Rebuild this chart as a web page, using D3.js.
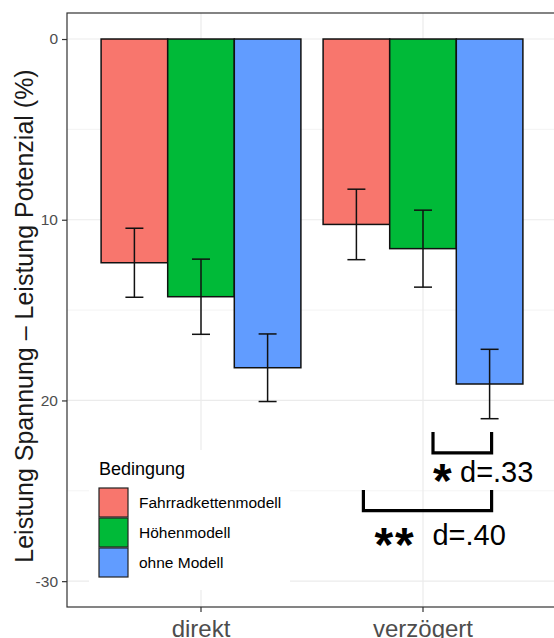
<!DOCTYPE html>
<html>
<head>
<meta charset="utf-8">
<script src="https://cdn.jsdelivr.net/npm/d3@7"></script>
<style>
  body { margin: 0; background: #fff; }
  svg { font-family: "Liberation Sans", Arial, sans-serif; display: block; }
</style>
</head>
<body>
<svg width="554" height="638"></svg>
<script>
const conditions = ['direkt', 'verzögert'];
const groups = ['Fahrradkettenmodell', 'Höhenmodell', 'ohne Modell'];
const colors = ['#F8766D', '#00BA38', '#619CFF'];

// mean difference per condition, one value per group
const meanDirekt = [12.38, 14.26, 18.19];
const meanVerzoegert = [10.26, 11.6, 19.09];
// half-length of error bars
const errDirekt = [1.91, 2.08, 1.87];
const errVerzoegert = [1.95, 2.13, 1.92];

const yTicks = [0, 10, 20, 30];
const yTickLabels = ['0', '10', '20', '-30'];
const yMinorTicks = [5, 15, 25];

const yAxisLabel = 'Leistung Spannung – Leistung Potenzial (%)';
const legendTitle = 'Bedingung';

// significance brackets: from group to group in 'verzögert', y in data units
const brackets = [
  { from: 'Höhenmodell', to: 'ohne Modell', top: 21.75, bottom: 22.9, stars: '*', label: 'd=.33', textY: 24.5 },
  { from: 'Fahrradkettenmodell', to: 'ohne Modell', top: 24.96, bottom: 26.1, stars: '**', label: 'd=.40', textY: 28.0 }
];

const data = [];
conditions.forEach((c, i) => {
  const means = i === 0 ? meanDirekt : meanVerzoegert;
  const errs = i === 0 ? errDirekt : errVerzoegert;
  groups.forEach((g, j) => data.push({ cond: c, group: g, value: means[j], err: errs[j] }));
});

const svg = d3.select('svg');
const panel = { left: 67, top: 13, right: 556, bottom: 607 };

const xScale = d3.scaleBand()
  .domain(conditions)
  .range([panel.left + 0.8, panel.right + 0.2])
  .paddingInner(0.1)
  .paddingOuter(0.15);

const xInner = d3.scaleBand()
  .domain(groups)
  .range([0, xScale.bandwidth()]);

const yScale = d3.scaleLinear()
  .domain([-1.44, 31.43])
  .range([panel.top, panel.bottom]);

const colorScale = d3.scaleOrdinal().domain(groups).range(colors);

const groupX = (c, g) => xScale(c) + xInner(g) + xInner.bandwidth() / 2;

// grid
const grid = svg.append('g');
grid.selectAll('.minor').data(yMinorTicks).join('line')
  .attr('x1', panel.left).attr('x2', 554)
  .attr('y1', d => yScale(d)).attr('y2', d => yScale(d))
  .attr('stroke', '#ebebeb').attr('stroke-width', 0.6);
grid.selectAll('.major').data(yTicks).join('line')
  .attr('x1', panel.left).attr('x2', 554)
  .attr('y1', d => yScale(d)).attr('y2', d => yScale(d))
  .attr('stroke', '#ebebeb').attr('stroke-width', 1.2);
grid.selectAll('.vmajor').data(conditions).join('line')
  .attr('x1', d => xScale(d) + xScale.bandwidth() / 2)
  .attr('x2', d => xScale(d) + xScale.bandwidth() / 2)
  .attr('y1', panel.top).attr('y2', panel.bottom)
  .attr('stroke', '#ebebeb').attr('stroke-width', 1.2);

// bars
svg.append('g').selectAll('rect').data(data).join('rect')
  .attr('x', d => xScale(d.cond) + xInner(d.group))
  .attr('width', xInner.bandwidth())
  .attr('y', yScale(0))
  .attr('height', d => yScale(d.value) - yScale(0))
  .attr('fill', d => colorScale(d.group))
  .attr('stroke', '#111')
  .attr('stroke-width', 1.5);

// error bars
const capW = xInner.bandwidth() * 0.27;
const eb = svg.append('g').attr('stroke', '#111').attr('stroke-width', 1.5);
eb.selectAll('.v').data(data).join('line')
  .attr('x1', d => groupX(d.cond, d.group)).attr('x2', d => groupX(d.cond, d.group))
  .attr('y1', d => yScale(d.value - d.err)).attr('y2', d => yScale(d.value + d.err));
eb.selectAll('.t').data(data).join('line')
  .attr('x1', d => groupX(d.cond, d.group) - capW / 2).attr('x2', d => groupX(d.cond, d.group) + capW / 2)
  .attr('y1', d => yScale(d.value - d.err)).attr('y2', d => yScale(d.value - d.err));
eb.selectAll('.b').data(data).join('line')
  .attr('x1', d => groupX(d.cond, d.group) - capW / 2).attr('x2', d => groupX(d.cond, d.group) + capW / 2)
  .attr('y1', d => yScale(d.value + d.err)).attr('y2', d => yScale(d.value + d.err));

// significance brackets
const br = svg.append('g');
brackets.forEach((b, i) => {
  const x1 = groupX('verzögert', b.from) + (i === 0 ? 10 : 7);
  const x2 = groupX('verzögert', b.to) + 2;
  br.append('path')
    .attr('d', `M${x1},${yScale(b.top)}V${yScale(b.bottom)}H${x2}V${yScale(b.top)}`)
    .attr('fill', 'none').attr('stroke', '#000').attr('stroke-width', 3.2);
  br.append('text')
    .attr('x', i === 0 ? x1 : x1 + 11)
    .attr('y', yScale(b.textY) + 15.5)
    .attr('font-size', 48).attr('font-weight', 'bold')
    .attr('letter-spacing', 2)
    .text(b.stars);
  br.append('text')
    .attr('x', i === 0 ? x1 + 27 : x1 + 69)
    .attr('y', yScale(b.textY))
    .attr('font-size', 29)
    .text(b.label);
});

// legend
const lg = svg.append('g').attr('transform', 'translate(89, 450)');
lg.append('rect').attr('width', 201).attr('height', 140).attr('fill', '#fff');
lg.append('text').attr('x', 10).attr('y', 25).attr('font-size', 18).text(legendTitle);
const items = lg.selectAll('.item').data(groups).join('g')
  .attr('transform', (d, i) => `translate(10, ${38 + i * 30})`);
items.append('rect')
  .attr('width', 29).attr('height', 29)
  .attr('fill', d => colorScale(d))
  .attr('stroke', '#222').attr('stroke-width', 1.2);
items.append('text')
  .attr('x', 40).attr('y', 15).attr('dy', '0.35em')
  .attr('font-size', 15.5)
  .text(d => d);

// axes
const yAxisG = svg.append('g')
  .attr('transform', `translate(${panel.left}, 0)`)
  .call(d3.axisLeft(yScale).tickValues(yTicks).tickFormat((d, i) => yTickLabels[i]).tickSize(5).tickPadding(4));
yAxisG.select('.domain').remove();
yAxisG.selectAll('line').attr('stroke', '#333').attr('stroke-width', 1.2);
yAxisG.selectAll('text').attr('font-size', 15.5).attr('fill', '#4d4d4d')
  .attr('font-family', '"Liberation Sans", Arial, sans-serif');

const xAxisG = svg.append('g')
  .attr('transform', `translate(0, ${panel.bottom})`)
  .call(d3.axisBottom(xScale).tickSize(5).tickPadding(8));
xAxisG.select('.domain').remove();
xAxisG.selectAll('line').attr('stroke', '#333').attr('stroke-width', 1.2);
xAxisG.selectAll('text').attr('font-size', 24).attr('fill', '#4d4d4d')
  .attr('font-family', '"Liberation Sans", Arial, sans-serif');

// panel border
svg.append('rect')
  .attr('x', panel.left).attr('y', panel.top)
  .attr('width', panel.right - panel.left).attr('height', panel.bottom - panel.top)
  .attr('fill', 'none').attr('stroke', '#333').attr('stroke-width', 1.2);

svg.append('text')
  .attr('transform', `translate(33, ${(panel.top + panel.bottom) / 2 + 6}) rotate(-90)`)
  .attr('text-anchor', 'middle')
  .attr('font-size', 25)
  .attr('fill', '#1a1a1a')
  .text(yAxisLabel);
</script>
</body>
</html>
